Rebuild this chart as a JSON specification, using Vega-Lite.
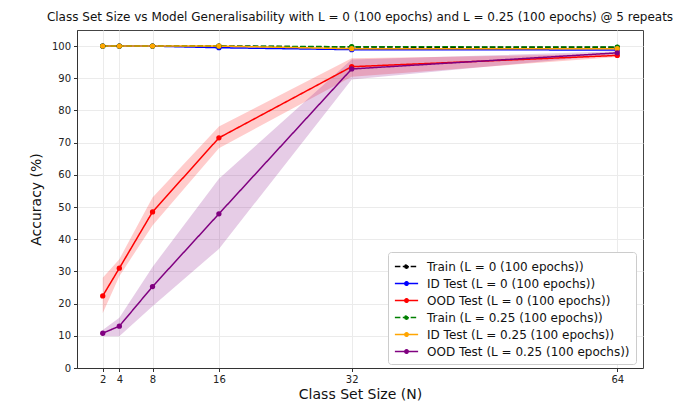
{
  "$schema": "https://vega.github.io/schema/vega-lite/v6.json",
  "autosize": {"type": "none"},
  "width": 566,
  "height": 338,
  "padding": {"left": 77, "top": 30, "right": 50, "bottom": 39},
  "background": "white",
  "title": {"text": "Class Set Size vs Model Generalisability with L = 0 (100 epochs) and L = 0.25 (100 epochs) @ 5 repeats", "fontSize": 12, "fontWeight": "normal", "font": "DejaVu Sans", "color": "#111", "offset": 6, "anchor": "middle"},
  "config": {
    "font": "DejaVu Sans",
    "view": {"stroke": "#444", "strokeWidth": 1},
    "axis": {"labelFont": "DejaVu Sans", "labelFontSize": 10, "labelColor": "#222", "titleFont": "DejaVu Sans", "titleFontSize": 14, "titleFontWeight": "normal", "titleColor": "#111", "tickColor": "#333", "tickSize": 3.5, "domainColor": "#333", "gridColor": "#ebebeb", "gridWidth": 1, "labelPadding": 3},
    "legend": {"labelFont": "DejaVu Sans", "labelFontSize": 12, "labelColor": "#111", "labelLimit": 400}
  },
  "datasets": {
    "acc": [
      {"N": 2, "acc": 100, "series": "Train (L = 0 (100 epochs))"},
      {"N": 4, "acc": 100, "series": "Train (L = 0 (100 epochs))"},
      {"N": 8, "acc": 100, "series": "Train (L = 0 (100 epochs))"},
      {"N": 16, "acc": 100, "series": "Train (L = 0 (100 epochs))"},
      {"N": 32, "acc": 99.7, "series": "Train (L = 0 (100 epochs))"},
      {"N": 64, "acc": 99.6, "series": "Train (L = 0 (100 epochs))"},
      {"N": 2, "acc": 100, "series": "ID Test (L = 0 (100 epochs))"},
      {"N": 4, "acc": 100, "series": "ID Test (L = 0 (100 epochs))"},
      {"N": 8, "acc": 100, "series": "ID Test (L = 0 (100 epochs))"},
      {"N": 16, "acc": 99.5, "series": "ID Test (L = 0 (100 epochs))"},
      {"N": 32, "acc": 98.9, "series": "ID Test (L = 0 (100 epochs))"},
      {"N": 64, "acc": 98.8, "series": "ID Test (L = 0 (100 epochs))"},
      {"N": 2, "acc": 22.4, "lo": 17.0, "hi": 28.0, "series": "OOD Test (L = 0 (100 epochs))"},
      {"N": 4, "acc": 31.0, "lo": 28.5, "hi": 33.8, "series": "OOD Test (L = 0 (100 epochs))"},
      {"N": 8, "acc": 48.5, "lo": 44.3, "hi": 53.0, "series": "OOD Test (L = 0 (100 epochs))"},
      {"N": 16, "acc": 71.5, "lo": 68.3, "hi": 75.0, "series": "OOD Test (L = 0 (100 epochs))"},
      {"N": 32, "acc": 93.6, "lo": 90.5, "hi": 96.2, "series": "OOD Test (L = 0 (100 epochs))"},
      {"N": 64, "acc": 97.1, "lo": 96.6, "hi": 97.6, "series": "OOD Test (L = 0 (100 epochs))"},
      {"N": 2, "acc": 100, "series": "Train (L = 0.25 (100 epochs))"},
      {"N": 4, "acc": 100, "series": "Train (L = 0.25 (100 epochs))"},
      {"N": 8, "acc": 100, "series": "Train (L = 0.25 (100 epochs))"},
      {"N": 16, "acc": 100, "series": "Train (L = 0.25 (100 epochs))"},
      {"N": 32, "acc": 99.8, "series": "Train (L = 0.25 (100 epochs))"},
      {"N": 64, "acc": 99.7, "series": "Train (L = 0.25 (100 epochs))"},
      {"N": 2, "acc": 100, "series": "ID Test (L = 0.25 (100 epochs))"},
      {"N": 4, "acc": 100, "series": "ID Test (L = 0.25 (100 epochs))"},
      {"N": 8, "acc": 100, "series": "ID Test (L = 0.25 (100 epochs))"},
      {"N": 16, "acc": 100, "series": "ID Test (L = 0.25 (100 epochs))"},
      {"N": 32, "acc": 99.2, "series": "ID Test (L = 0.25 (100 epochs))"},
      {"N": 64, "acc": 99.2, "series": "ID Test (L = 0.25 (100 epochs))"},
      {"N": 2, "acc": 10.8, "lo": 9.9, "hi": 11.8, "series": "OOD Test (L = 0.25 (100 epochs))"},
      {"N": 4, "acc": 13.0, "lo": 9.9, "hi": 15.6, "series": "OOD Test (L = 0.25 (100 epochs))"},
      {"N": 8, "acc": 25.3, "lo": 19.2, "hi": 31.4, "series": "OOD Test (L = 0.25 (100 epochs))"},
      {"N": 16, "acc": 47.9, "lo": 37.0, "hi": 58.8, "series": "OOD Test (L = 0.25 (100 epochs))"},
      {"N": 32, "acc": 92.9, "lo": 89.6, "hi": 95.8, "series": "OOD Test (L = 0.25 (100 epochs))"},
      {"N": 64, "acc": 97.9, "lo": 97.4, "hi": 98.4, "series": "OOD Test (L = 0.25 (100 epochs))"}
    ]
  },
  "data": {"name": "acc"},
  "encoding": {
    "x": {"field": "N", "type": "quantitative", "title": "Class Set Size (N)", "scale": {"domain": [-1.1, 67.1], "nice": false, "zero": false},
      "axis": {"values": [2, 4, 8, 16, 32, 64], "titlePadding": 3}},
    "y": {"field": "acc", "type": "quantitative", "title": "Accuracy (%)", "scale": {"domain": [0, 105], "nice": false},
      "axis": {"values": [0, 10, 20, 30, 40, 50, 60, 70, 80, 90, 100], "titlePadding": 8}}
  },
  "layer": [
    {
      "transform": [{"filter": "datum.series === 'OOD Test (L = 0 (100 epochs))'"}],
      "mark": {"type": "area", "color": "#ff0000", "opacity": 0.2},
      "encoding": {"y": {"field": "lo", "type": "quantitative"}, "y2": {"field": "hi"}}
    },
    {
      "transform": [{"filter": "datum.series === 'OOD Test (L = 0.25 (100 epochs))'"}],
      "mark": {"type": "area", "color": "#800080", "opacity": 0.2},
      "encoding": {"y": {"field": "lo", "type": "quantitative"}, "y2": {"field": "hi"}}
    },
    {
      "mark": {"type": "line", "strokeWidth": 1.5, "point": {"filled": true, "size": 28, "opacity": 1}},
      "encoding": {
        "color": {"field": "series", "type": "nominal", "title": null,
          "scale": {"domain": ["Train (L = 0 (100 epochs))", "ID Test (L = 0 (100 epochs))", "OOD Test (L = 0 (100 epochs))", "Train (L = 0.25 (100 epochs))", "ID Test (L = 0.25 (100 epochs))", "OOD Test (L = 0.25 (100 epochs))"],
                    "range": ["#000000", "#0000ff", "#ff0000", "#008000", "#ffa500", "#800080"]},
          "legend": {"orient": "none", "legendX": 311, "legendY": 222, "padding": 6, "fillColor": "white", "strokeColor": "#cccccc", "cornerRadius": 3,
            "symbolType": "M-1.5,0H1.5M-0.22,0A0.22,0.22,0,1,0,0.22,0A0.22,0.22,0,1,0,-0.22,0",
            "symbolSize": 240, "symbolStrokeWidth": 1.5, "rowPadding": 2, "labelOffset": 12, "symbolOffset": 4}},
        "strokeDash": {"field": "series", "type": "nominal", "title": null,
          "scale": {"domain": ["Train (L = 0 (100 epochs))", "ID Test (L = 0 (100 epochs))", "OOD Test (L = 0 (100 epochs))", "Train (L = 0.25 (100 epochs))", "ID Test (L = 0.25 (100 epochs))", "OOD Test (L = 0.25 (100 epochs))"],
                    "range": [[5.5, 2.4], [1, 0], [1, 0], [5.5, 2.4], [1, 0], [1, 0]]}}
      }
    }
  ]
}
